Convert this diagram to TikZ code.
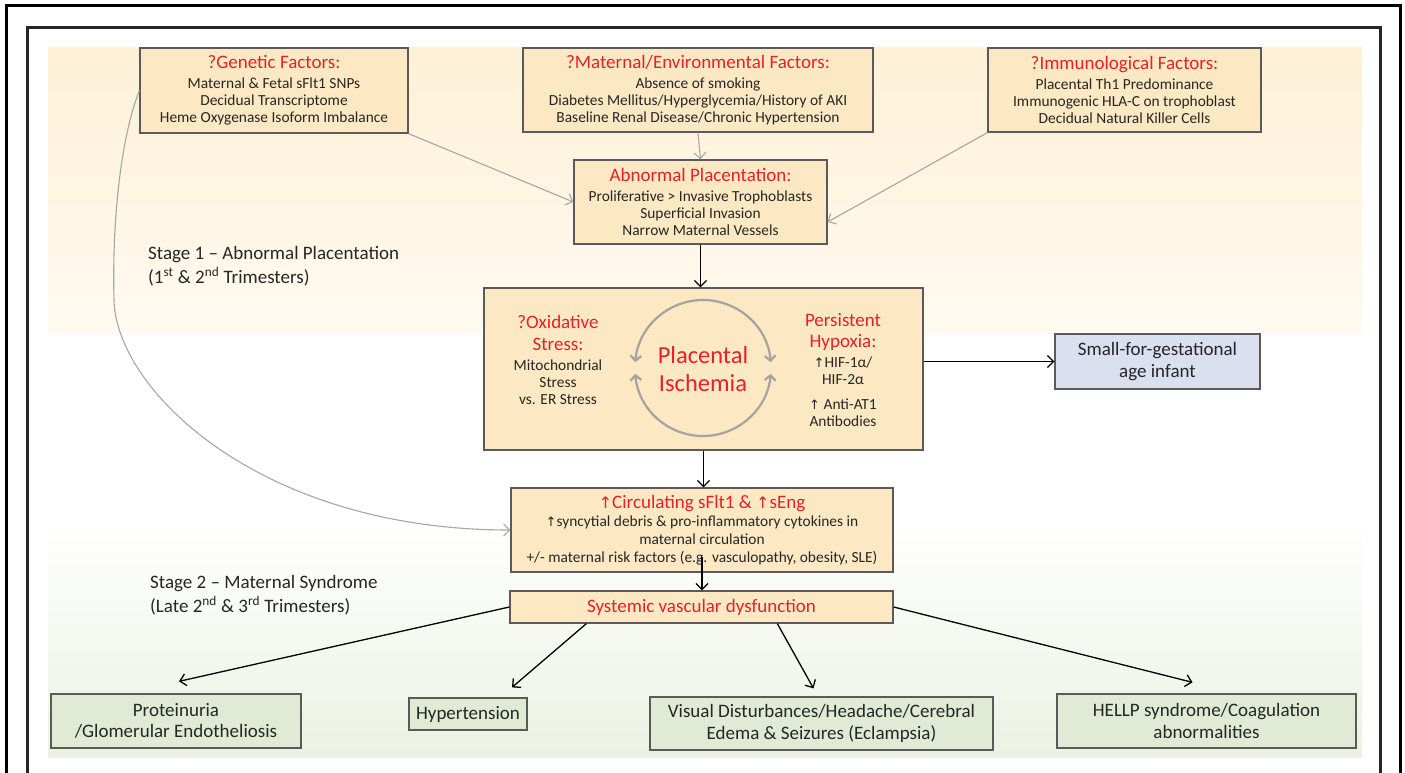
\documentclass[tikz,border=0pt]{standalone}
\usepackage{fontspec}
\setmainfont{Carlito}
\newfontfamily\dvs{DejaVu Sans}
\usetikzlibrary{arrows.meta,calc}
\definecolor{boxfill}{HTML}{FCE8C3}
\definecolor{boxline}{HTML}{5A5A5A}
\definecolor{redt}{HTML}{E8202A}
\definecolor{txt}{HTML}{262626}
\definecolor{sgafill}{HTML}{DAE0EF}
\definecolor{greenfill}{HTML}{E1EAD5}
\definecolor{grayarr}{HTML}{A6A6A6}
\definecolor{circgray}{HTML}{A3A3A3}
\definecolor{bgcreamA}{HTML}{FDF0D5}
\definecolor{bgcreamB}{HTML}{FFFAF1}
\definecolor{bggreen}{HTML}{ECF1E3}
\newcommand\bodyf{\fontsize{15.4}{17}\selectfont}
\newcommand\titf{\fontsize{19}{22}\selectfont\color{redt}}
\newcommand\bigf{\fontsize{19}{21.5}\selectfont}
\newcommand\upar{{\dvs\fontsize{13}{13}\selectfont ↑}}
\newcommand\upt{{\dvs\fontsize{16}{16}\selectfont ↑}}
\begin{document}
\begin{tikzpicture}[x=1pt,y=-1pt,
  box/.style={draw=boxline,line width=1.3pt,fill=boxfill,inner sep=0pt,align=center,text=txt,font=\bodyf},
  gbox/.style={box,fill=greenfill,font=\bigf},
  plain/.style={inner sep=0pt,align=center,text=txt,font=\bodyf},
  stage/.style={inner sep=0pt,anchor=base west,text=txt,font=\bigf},
  garr/.style={draw=grayarr,line width=1.1pt,-{Straight Barb[length=6pt,width=12pt]}},
  barr/.style={draw=black,line width=1.3pt,-{Straight Barb[length=6pt,width=12pt]}},
  carr/.style={draw=circgray,line width=2.2pt,{Straight Barb[length=5pt,width=11pt]}-{Straight Barb[length=5pt,width=11pt]}}]
\useasboundingbox (0,0) rectangle (1405,773);
\clip (0,0) rectangle (1405,773);
\fill[white] (0,0) rectangle (1405,773);
% background
\shade[top color=bgcreamA,bottom color=bgcreamB] (48,48) rectangle (1362,333);
\shade[top color=white,bottom color=bggreen] (48,520) rectangle (1362,757);
% frames
\draw[line width=3pt,black] (6,790) -- (6,6) -- (1400.5,6) -- (1400.5,790);
\draw[line width=2.5pt,black!85] (27.5,790) -- (27.5,27.5) -- (1380.5,27.5) -- (1380.5,790);
% top boxes
\node[box,minimum width=268pt,minimum height=85pt] (gen) at (274,90.5)
  {{\titf ?Genetic Factors:}\\[3pt] Maternal \& Fetal sFlt1 SNPs\\ Decidual Transcriptome\\ Heme Oxygenase Isoform Imbalance};
\node[box,minimum width=350pt,minimum height=84pt] (mat) at (698,90)
  {{\titf ?Maternal/Environmental Factors:}\\[3pt] Absence of smoking\\ Diabetes Mellitus/Hyperglycemia/History of AKI\\ Baseline Renal Disease/Chronic Hypertension};
\node[box,minimum width=273pt,minimum height=84pt] (imm) at (1124.5,90)
  {{\titf ?Immunological Factors:}\\[3pt] Placental Th1 Predominance\\ Immunogenic HLA-C on trophoblast\\ Decidual Natural Killer Cells};
\node[box,minimum width=253pt,minimum height=84pt] (abn) at (700.5,202)
  {{\titf Abnormal Placentation:}\\[3pt] Proliferative > Invasive Trophoblasts\\ Superficial Invasion\\ Narrow Maternal Vessels};
% central box
\node[box,minimum width=439pt,minimum height=162pt] (cen) at (703.5,369) {};
\node[plain] (oxl) at (558,360)
  {{\titf ?Oxidative}\\[4.5pt]{\titf Stress:}\\[3pt] Mitochondrial\\ Stress\\ vs. ER Stress};
\node[plain] (hyl) at (843,370)
  {{\titf Persistent}\\[4.5pt]{\titf Hypoxia:}\\[3pt] \upar HIF-1α/\\ HIF-2α\\[8pt] \upar{} Anti-AT1\\ Antibodies};
\node[plain,font=\fontsize{24.5}{28}\selectfont,text=redt] (isch) at (703,369) {Placental\\Ischemia};
\coordinate (cc) at (703,368);
\draw[carr] ($(cc)+(5:68pt)$) arc[start angle=5,end angle=175,radius=68pt];
\draw[carr] ($(cc)+(185:68pt)$) arc[start angle=185,end angle=355,radius=68pt];
% SGA
\node[box,fill=sgafill,font=\bigf,minimum width=205pt,minimum height=55pt] (sga) at (1157.5,361.5)
  {Small-for-gestational\\ age infant};
% circulating
\node[box,font=\fontsize{15.4}{18}\selectfont,minimum width=382pt,minimum height=84pt] (circ) at (702,530)
  {{\titf\upt Circulating sFlt1 \& \upt sEng}\\ \upar syncytial debris \& pro-inflammatory cytokines in\\ maternal circulation\\ +/- maternal risk factors (e.g. vasculopathy, obesity, SLE)};
\node[box,minimum width=383pt,minimum height=32pt] (sys) at (701.5,607)
  {{\titf Systemic vascular dysfunction}};
% bottom boxes
\node[gbox,minimum width=250pt,minimum height=54pt] (prot) at (176,721) {Proteinuria\\ /Glomerular Endotheliosis};
\node[gbox,minimum width=118pt,minimum height=32pt] (hyp) at (468,714) {Hypertension};
\node[gbox,minimum width=343pt,minimum height=53pt] (vis) at (821.5,723.5) {Visual Disturbances/Headache/Cerebral\\ Edema \& Seizures (Eclampsia)};
\node[gbox,minimum width=299pt,minimum height=54pt] (hel) at (1206.5,721) {HELLP syndrome/Coagulation\\ abnormalities};
% stage labels
\node[stage] (s1a) at (148,259) {Stage 1 – Abnormal Placentation};
\node[stage] (s1b) at (148,283) {(1\textsuperscript{st} \& 2\textsuperscript{nd} Trimesters)};
\node[stage] (s2a) at (150,588) {Stage 2 – Maternal Syndrome};
\node[stage] (s2b) at (150,612) {(Late 2\textsuperscript{nd} \& 3\textsuperscript{rd} Trimesters)};
% gray connectors
\draw[garr] (gen.south east) -- (abn.west);
\draw[garr] (mat.south) -- (abn.north);
\draw[garr] (imm.south west) -- ($(abn.east)+(0,20)$);
\coordinate (cv) at (114,300);
\draw[garr] (gen.west) .. controls (120,140) and (112,225) .. (cv) .. controls (116,390) and (260,530) .. (circ.west);
% black connectors
\draw[barr] (abn.south) -- (abn.south |- cen.north);
\draw[barr] (cen.east |- sga.west) -- (sga.west);
\draw[barr] (cen.south) -- (cen.south |- circ.north);
\draw[barr] ($(circ.south)+(0,-16)$) -- (circ.south |- sys.north);
\draw[barr] (sys.west) -- ($(prot.north)+(3,-12)$);
\draw[barr] ($(sys.south west)+(77,0)$) -- ($(hyp.north)+(44,-10)$);
\draw[barr] ($(sys.south west)+(268,0)$) -- ($(vis.north)+(-8,-8)$);
\draw[barr] (sys.east) -- ($(hel.north)+(-14,-11)$);
\end{tikzpicture}
\end{document}
